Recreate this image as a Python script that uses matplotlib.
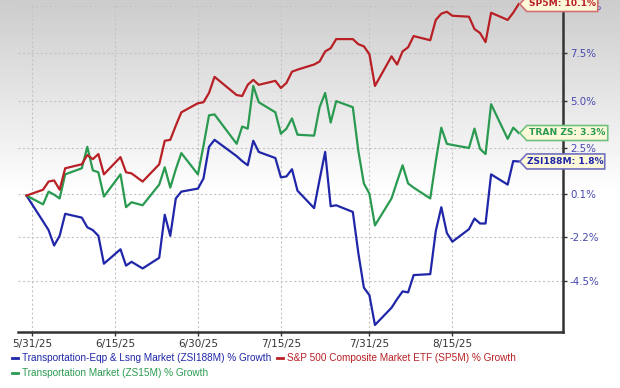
import matplotlib
matplotlib.use("Agg")
import matplotlib.pyplot as plt
import matplotlib.dates as mdates
from matplotlib.patches import Polygon
from matplotlib.lines import Line2D
import numpy as np
import pandas as pd

# trading days 5/30/25 .. 8/27/25 (6/19 and 7/4 closed)
dates = pd.bdate_range("2025-05-30", "2025-08-27", freq="C",
                       holidays=["2025-06-19", "2025-07-04"])

zsi188m = [0, -1.36, -1.82, -2.63, -2.12, -0.96, -1.16, -1.67, -1.82, -2.12, -3.59, -2.83,
           -3.69, -3.49, -3.84, -3.28, -1.01, -2.12, -0.15, 0.21, 0.37, 0.90, 2.57, 2.94,
           2.08, 1.82, 1.60, 2.89, 2.30, 1.98, 0.96, 1.01, 1.39, 0.26, -0.66, 0.85, 2.30,
           -0.56, -0.51, -0.86, -3.03, -4.85, -5.25, -6.82, -5.91, -5.46, -5.05, -5.10,
           -4.19, -4.14, -1.87, -0.61, -1.97, -2.43, -1.77, -1.21, -1.47, -1.47, 1.12,
           0.58, 1.82, 1.8]
sp5m = [0.0, 0.31, 0.74, 0.80, 0.31, 1.44, 1.65, 2.14, 1.92, 2.19, 1.12, 2.03, 1.23, 1.17,
        0.74, 1.65, 2.89, 2.94, 3.69, 4.39, 4.87, 4.92, 5.41, 6.26, 5.30, 5.25, 5.84, 6.10,
        5.84, 6.05, 5.67, 5.94, 6.53, 6.64, 6.91, 7.07, 7.60, 7.77, 8.25, 8.25, 7.98, 7.87,
        7.45, 5.78, 7.34, 6.91, 7.60, 7.82, 8.41, 8.19, 9.26, 9.59, 9.69, 9.48, 9.43, 8.78,
        8.57, 8.09, 9.64, 9.26, 9.64, 10.1]
zs15m = [0, -0.46, 0.21, 0.05, -0.15, 1.12, 1.44, 2.57, 1.33, 1.23, -0.05, 1.12, -0.61,
         -0.35, -0.51, 0.58, 1.49, 0.42, 1.39, 2.24, 1.12, 2.62, 4.23, 4.28, 2.73, 3.64,
         3.53, 5.78, 4.92, 4.39, 3.26, 3.53, 4.07, 3.21, 3.16, 4.66, 5.41, 3.85, 4.98, 4.66,
         2.35, 0.64, 0.10, -1.57, -0.15, 0.74, 1.60, 0.64, 0.42, -0.15, 1.81, 3.58, 2.73,
         2.67, 2.51, 3.53, 2.46, 2.19, 4.82, 2.99, 3.58, 3.3]

xtick_dates = pd.to_datetime(["2025-05-31", "2025-06-15", "2025-06-30", "2025-07-15",
                              "2025-07-31", "2025-08-15"])
xtick_labels = ["5/31/25", "6/15/25", "6/30/25", "7/15/25", "7/31/25", "8/15/25"]
ytick_vals = [10.0, 7.5, 5.0, 2.5, 0.1, -2.2, -4.5]
ytick_labels = ["10.0%", "7.5%", "5.0%", "2.5%", "0.1%", "-2.2%", "-4.5%"]

blue = "#2026a8"
red = "#b82025"
green = "#2a9a50"

W, H = 620, 388
fig = plt.figure(figsize=(W / 100, H / 100), dpi=100)

# grey to white background gradient
bg = fig.add_axes([0, 0, 1, 1], zorder=0)
grad = np.ones((H, 1))
rows = np.arange(H)
grad[:, 0] = np.clip(0.80 + 0.20 * rows / 195, 0, 1)
bg.imshow(grad, aspect="auto", cmap="gray", vmin=0, vmax=1, extent=[0, 1, 0, 1], origin="upper")
bg.axis("off")

ax = fig.add_axes([18 / W, (H - 332) / H, 545 / W, 328 / H], zorder=1)
ax.patch.set_alpha(0)

ax.plot(dates, zsi188m, color=blue, lw=1.6, clip_on=False, zorder=3)
ax.plot(dates, zs15m, color=green, lw=1.6, clip_on=False, zorder=3)
ax.plot(dates, sp5m, color=red, lw=1.6, clip_on=False, zorder=3)

x0 = pd.Timestamp("2025-05-31")
ax.set_xlim(x0 - pd.Timedelta(days=2.53), x0 + pd.Timedelta(days=96.0))
ax.set_ylim(-7.19, 10.10)

ax.set_xticks(xtick_dates)
ax.set_xticklabels(xtick_labels, fontsize=7.5, color="#333333")
ax.yaxis.tick_right()
ax.set_yticks(ytick_vals)
ax.set_yticklabels(ytick_labels, fontsize=7.4, color="#4848b0")
ax.tick_params(axis="both", length=3, width=1, color="#333333", pad=2)
ax.grid(True, color="#c4c4c4", ls=(0, (2, 2)), lw=0.8)

for s in ["top", "left"]:
    ax.spines[s].set_visible(False)
for s in ["bottom", "right"]:
    ax.spines[s].set_color("#333333")
    ax.spines[s].set_linewidth(1.8)

# end-value callouts
fig.canvas.draw()
inv = fig.transFigure.inverted()
callouts = [(sp5m, "SP5M: 10.1%", red, "#d07070", 78),
            (zs15m, "TRAN ZS: 3.3%", green, "#70c080", 88),
            (zsi188m, "ZSI188M: 1.8%", blue, "#7070c0", 85)]
for vals, txt, col, ecol, wpx in callouts:
    px, py = ax.transData.transform((mdates.date2num(dates[-1]), vals[-1]))
    px += 1
    h = 7.5
    pts = [(px, py), (px + 7, py + h), (px + wpx, py + h), (px + wpx, py - h), (px + 7, py - h)]
    poly = Polygon(inv.transform(pts), closed=True, transform=fig.transFigure,
                   facecolor="#fdf9d8", edgecolor=ecol, lw=1.2, zorder=5)
    fig.add_artist(poly)
    cx, cy = inv.transform((px + 7 + (wpx - 7) / 2, py))
    fig.text(cx, cy, txt, color=col, fontsize=6.6, fontweight="bold",
             ha="center", va="center", zorder=6)

# legend
legend_items = [(12, 358, blue, "Transportation-Eqp & Lsng Market (ZSI188M) % Growth"),
                (277, 358, red, "S&P 500 Composite Market ETF (SP5M) % Growth"),
                (12, 373, green, "Transportation Market (ZS15M) % Growth")]
for lx, ly, col, txt in legend_items:
    yf = (H - ly) / H
    fig.add_artist(Line2D([lx / W, (lx + 6) / W], [yf, yf], color=col, lw=2,
                          transform=fig.transFigure))
    fig.text((lx + 10) / W, yf, txt, color=col, fontsize=7.2, family="Liberation Sans",
             ha="left", va="center")

fig.savefig("out.png", dpi=100)
